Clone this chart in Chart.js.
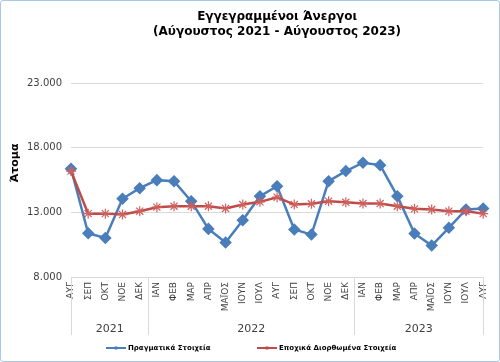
<!DOCTYPE html>
<html>
<head>
<meta charset="utf-8">
<script src="https://cdn.jsdelivr.net/npm/chart.js@4"></script>
<style>
  body { margin: 0; background: #fff; }
  #box { width: 498px; height: 360px; border: 1px solid #a9c9ea; border-radius: 3px; }
</style>
</head>
<body>
<div id="box"><canvas id="myChart" width="498" height="360"></canvas></div>
<script>
const months = ['ΑΥΓ','ΣΕΠ','ΟΚΤ','ΝΟΕ','ΔΕΚ','ΙΑΝ','ΦΕΒ','ΜΑΡ','ΑΠΡ','ΜΑΪΟΣ','ΙΟΥΝ','ΙΟΥΛ',
                'ΑΥΓ','ΣΕΠ','ΟΚΤ','ΝΟΕ','ΔΕΚ','ΙΑΝ','ΦΕΒ','ΜΑΡ','ΑΠΡ','ΜΑΪΟΣ','ΙΟΥΝ','ΙΟΥΛ','ΑΥΓ'];
const years = ['2021', '2022', '2023'];
const yearFirstIndex = [0, 5, 17];   // first month of each year in months[]

const actual = [16370, 11380, 11020, 14050, 14870, 15490, 15410, 13860, 11720, 10660, 12390, 14250,
                15020, 11670, 11280, 15410, 16190, 16840, 16650, 14250, 11360, 10430, 11800, 13220, 13300];
const seasonal = [16190, 12900, 12900, 12830, 13090, 13400, 13470, 13470, 13470, 13300, 13600, 13810,
                  14170, 13600, 13660, 13860, 13780, 13680, 13680, 13470, 13270, 13220, 13090, 13090, 12900];

const yTicks = [8000, 13000, 18000, 23000];

const BLUE = '#4a7ebb';
const RED = '#be4b48';

// year row under the month labels, y axis title and legend
const extras = {
  id: 'extras',
  afterDraw(chart) {
    const ctx = chart.ctx;
    const x = chart.scales.x;
    const area = chart.chartArea;
    const bottom = area.bottom + 58;
    ctx.save();
    ctx.strokeStyle = '#d9d9d9';
    ctx.lineWidth = 1;
    const edges = [area.left];
    for (let i = 1; i < yearFirstIndex.length; i++) {
      const k = yearFirstIndex[i];
      edges.push((x.getPixelForValue(k - 1) + x.getPixelForValue(k)) / 2);
    }
    edges.push(area.right);
    edges.forEach(e => {
      const px = Math.round(e) + 0.5;
      ctx.beginPath();
      ctx.moveTo(px, area.bottom);
      ctx.lineTo(px, bottom);
      ctx.stroke();
    });
    ctx.fillStyle = '#404040';
    ctx.font = '11px "DejaVu Sans"';
    ctx.textAlign = 'center';
    ctx.textBaseline = 'middle';
    years.forEach((y, i) => {
      ctx.fillText(y, (edges[i] + edges[i + 1]) / 2, area.bottom + 52);
    });

    // legend
    const items = [
      { ds: chart.data.datasets[0], x: 105 },
      { ds: chart.data.datasets[1], x: 256 }
    ];
    const ly = 347;
    ctx.textAlign = 'left';
    ctx.font = 'bold 7px "DejaVu Sans"';
    items.forEach(it => {
      ctx.strokeStyle = it.ds.borderColor;
      ctx.lineWidth = 2;
      ctx.beginPath();
      ctx.moveTo(it.x, ly);
      ctx.lineTo(it.x + 20, ly);
      ctx.stroke();
      ctx.fillStyle = it.ds.borderColor;
      ctx.fillRect(it.x + 8.5, ly - 1.5, 3, 3);
      ctx.fillStyle = '#000';
      ctx.fillText(it.ds.label, it.x + 22, ly + 0.5);
    });

    // y axis title
    ctx.translate(14, 162);
    ctx.rotate(-Math.PI / 2);
    ctx.textAlign = 'center';
    ctx.font = 'bold 11px "DejaVu Sans"';
    ctx.fillStyle = '#000';
    ctx.fillText('Άτομα', 0, 0);
    ctx.restore();
  }
};

const data = {
  labels: months,
  datasets: [
    {
      label: 'Πραγματικά Στοιχεία',
      data: actual,
      borderColor: BLUE,
      backgroundColor: BLUE,
      borderWidth: 2.5,
      pointStyle: 'rectRot',
      pointRadius: 4.5,
      pointBackgroundColor: BLUE,
      pointBorderColor: BLUE,
      tension: 0,
      order: 1
    },
    {
      label: 'Εποχικά Διορθωμένα Στοιχεία',
      data: seasonal,
      borderColor: RED,
      backgroundColor: RED,
      borderWidth: 2.5,
      pointStyle: 'star',
      pointRadius: 5,
      pointBorderWidth: 1.2,
      pointBorderColor: '#d0605d',
      tension: 0,
      order: 0
    }
  ]
};

const config = {
  type: 'line',
  data: data,
  options: {
    responsive: false,
    animation: false,
    layout: { padding: { left: 0, right: 14, top: 0, bottom: 26 } },
    plugins: {
      title: {
        display: true,
        fullSize: false,
        text: ['Εγγεγραμμένοι Άνεργοι', '(Αύγουστος 2021 - Αύγουστος 2023)'],
        color: '#000',
        font: { family: 'DejaVu Sans', size: 12, weight: 'bold', lineHeight: 1.25 },
        padding: { top: 8, bottom: 44 }
      },
      legend: { display: false },
      tooltip: { enabled: false }
    },
    scales: {
      x: {
        afterFit: s => { s.height = 58; },
        grid: { display: false, drawTicks: false },
        border: { color: '#d9d9d9' },
        ticks: {
          autoSkip: false,
          minRotation: 90,
          maxRotation: 90,
          padding: 5,
          color: '#404040',
          font: { family: 'DejaVu Sans', size: 9 }
        }
      },
      y: {
        min: 8000,
        max: 23000,
        afterFit: s => { s.width = 70; },
        afterBuildTicks: s => { s.ticks = yTicks.map(v => ({ value: v })); },
        grid: { color: '#d9d9d9', drawTicks: false },
        border: { display: false },
        ticks: {
          padding: 9,
          color: '#404040',
          font: { family: 'DejaVu Sans', size: 10 },
          callback: v => (v / 1000).toFixed(3)
        }
      }
    }
  },
  plugins: [extras]
};

let myChart = new Chart(document.getElementById('myChart'), config);
</script>
</body>
</html>
